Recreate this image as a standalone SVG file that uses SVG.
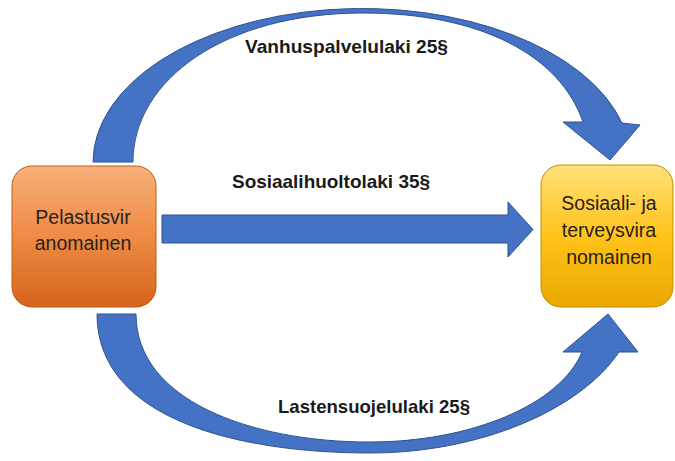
<svg xmlns="http://www.w3.org/2000/svg" width="675" height="461" viewBox="0 0 675 461">
  <defs>
    <linearGradient id="gOrange" x1="0" y1="0" x2="0" y2="1">
      <stop offset="0" stop-color="#F6B07A"/>
      <stop offset="0.5" stop-color="#EE8B45"/>
      <stop offset="1" stop-color="#D5641B"/>
    </linearGradient>
    <linearGradient id="gYellow" x1="0" y1="0" x2="0" y2="1">
      <stop offset="0" stop-color="#FFE07A"/>
      <stop offset="0.5" stop-color="#FFC31A"/>
      <stop offset="1" stop-color="#EAA800"/>
    </linearGradient>
    <style>
      .arrow { fill: #4472C4; stroke: #2F528F; stroke-width: 1; stroke-linejoin: miter; }
      .label { font-family: "Liberation Sans", Arial, sans-serif; font-weight: bold; font-size: 18.5px; fill: #1A1A1A; text-anchor: middle; }
      .nodetext { font-family: "Liberation Sans", Arial, sans-serif; font-size: 19.5px; fill: #2A2118; text-anchor: middle; }
    </style>
  </defs>
  <rect width="675" height="461" fill="#FFFFFF"/>

  <g id="connectors">
    <path class="arrow" d="M93,162 A269,154 0 0 1 622,123 L640,125 L610,160 L563,122 L583,122 C560,55 480,13 363,13 C225,13 133,80 133,162 Z"/>
    <path class="arrow" d="M162,215 L508,215 L508,202 L533,229.5 L508,257 L508,243 L162,243 Z"/>
    <path class="arrow" d="M97,314 C97,420 240,453 370,453 C480,453 580,410 619,352 L638,352 L608,314 L563,352 L582,352 C560,405 470,442 370,442 C250,442 136,400 136,314 Z"/>
    <text class="label" x="346.5" y="53" textLength="203" lengthAdjust="spacingAndGlyphs">Vanhuspalvelulaki 25§</text>
    <text class="label" x="331" y="188" textLength="198" lengthAdjust="spacingAndGlyphs">Sosiaalihuoltolaki 35§</text>
    <text class="label" x="374" y="413" textLength="192" lengthAdjust="spacingAndGlyphs">Lastensuojelulaki 25§</text>
  </g>

  <g id="node-pelastus">
    <rect x="12" y="166" width="144" height="141" rx="20" ry="20" fill="url(#gOrange)" stroke="#C55A11" stroke-width="1"/>
    <text class="nodetext" x="83" y="224">Pelastusvir</text>
    <text class="nodetext" x="83" y="250">anomainen</text>
  </g>

  <g id="node-sosiaali">
    <rect x="541" y="165" width="132" height="142" rx="20" ry="20" fill="url(#gYellow)" stroke="#BF9000" stroke-width="1"/>
    <text class="nodetext" x="609" y="210">Sosiaali- ja</text>
    <text class="nodetext" x="609" y="237">terveysvira</text>
    <text class="nodetext" x="609" y="264">nomainen</text>
  </g>
</svg>
